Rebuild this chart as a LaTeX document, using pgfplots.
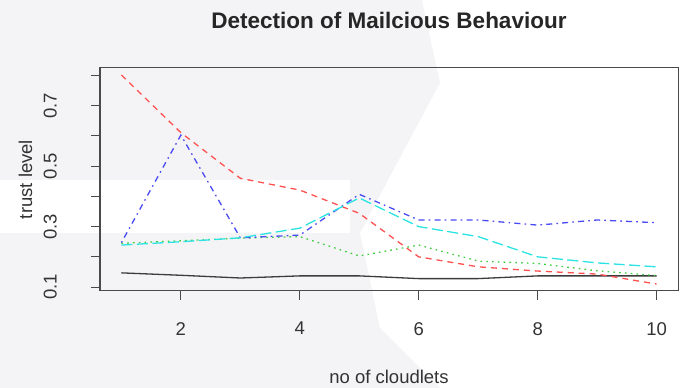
\documentclass[border=0pt]{standalone}
\usepackage{pgfplots}
\pgfplotsset{compat=1.18}
\usepackage{fontspec}
\setmainfont{Liberation Sans}
\definecolor{rblack}{HTML}{3C3C3C}
\definecolor{rred}{HTML}{FF5050}
\definecolor{rgreen}{HTML}{3DCC3D}
\definecolor{rblue}{HTML}{4A4AF5}
\definecolor{rcyan}{HTML}{2BE3E3}
\definecolor{axgray}{HTML}{4A4A4A}
\definecolor{wmgray}{HTML}{F4F4F6}
\begin{document}
\begin{tikzpicture}[x=1pt,y=1pt]
\path[use as bounding box] (0,0) rectangle (689,388);
% faint watermark background
\fill[wmgray] (0,388) -- (422,388) -- (440,305) -- (395,221) -- (360,155) -- (380,60) -- (440,0) -- (0,0) -- cycle;
\fill[white] (0,208) rectangle (350,155);
\begin{axis}[
  at={(100pt,97pt)}, anchor=south west,
  width=578pt, height=223pt, scale only axis,
  xmin=0.64, xmax=10.36, ymin=0.087, ymax=0.825,
  axis line style={draw=axgray, line width=1pt},
  every tick/.style={draw=axgray, line width=1pt},
  tick align=outside, major tick length=9pt,
  xtick pos=lower, ytick pos=left,
  xtick={2,4,6,8,10}, xticklabels={2,4,6,8,10},
  ytick={0.1,0.2,0.3,0.4,0.5,0.6,0.7,0.8},
  yticklabels={0.1,,0.3,,0.5,,0.7,},
  tick label style={font=\fontsize{18.5}{22}\selectfont, text=black!80, inner sep=0pt},
  xticklabel shift=22pt,
  yticklabel style={rotate=90},
  yticklabel shift=34pt,
  title={Detection of Mailcious Behaviour},
  title style={font=\fontsize{22.5}{26}\selectfont\bfseries, text=black!85, inner sep=0pt,
    at={(axis description cs:0.5,1.152)}, anchor=base},
  xlabel={no of cloudlets},
  xlabel style={font=\fontsize{18.5}{22}\selectfont, text=black!80, inner sep=0pt,
    at={(axis description cs:0.5,-0.413)}, anchor=base},
  ylabel={trust level},
  ylabel style={font=\fontsize{18.5}{22}\selectfont, text=black!80, inner sep=0pt,
    at={(axis description cs:-0.1176,0.5)}, anchor=base},
  every axis plot/.append style={line width=1.3pt, mark=none},
]
% black solid
\addplot[rblack, solid] coordinates {
 (1,0.147) (2,0.139) (3,0.130) (4,0.137) (5,0.137)
 (6,0.128) (7,0.128) (8,0.137) (9,0.137) (10,0.137)};
% red dashed
\addplot[rred, dash pattern=on 6pt off 5pt] coordinates {
 (1,0.802) (2,0.611) (3,0.460) (4,0.421) (5,0.344)
 (6,0.200) (7,0.167) (8,0.153) (9,0.143) (10,0.110)};
% green dotted
\addplot[rgreen, dash pattern=on 1.6pt off 4.2pt] coordinates {
 (1,0.245) (2,0.253) (3,0.262) (4,0.267) (5,0.203)
 (6,0.239) (7,0.186) (8,0.178) (9,0.154) (10,0.138)};
% blue dot-dash
\addplot[rblue, dash pattern=on 1.6pt off 4.2pt on 6pt off 4.2pt] coordinates {
 (1,0.247) (2,0.603) (3,0.263) (4,0.272) (5,0.407)
 (6,0.322) (7,0.322) (8,0.305) (9,0.322) (10,0.313)};
% cyan long dash
\addplot[rcyan, dash pattern=on 11pt off 4.5pt] coordinates {
 (1,0.239) (2,0.250) (3,0.263) (4,0.295) (5,0.395)
 (6,0.300) (7,0.267) (8,0.200) (9,0.180) (10,0.167)};
\end{axis}
\end{tikzpicture}
\end{document}
